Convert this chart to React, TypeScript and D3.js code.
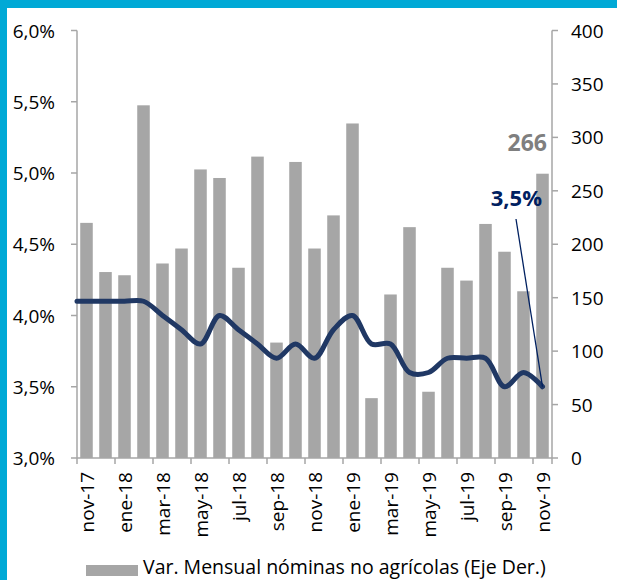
import React from "react";
import * as d3 from "d3";

const categories = [
  "nov-17","dic-17","ene-18","feb-18","mar-18","abr-18","may-18","jun-18","jul-18","ago-18","sep-18","oct-18",
  "nov-18","dic-18","ene-19","feb-19","mar-19","abr-19","may-19","jun-19","jul-19","ago-19","sep-19","oct-19","nov-19",
];
const payrolls = [220,174,171,330,182,196,270,262,178,282,108,277,196,227,313,56,153,216,62,178,166,219,193,156,266];
const unemployment = [4.1,4.1,4.1,4.1,4.0,3.9,3.8,4.0,3.9,3.8,3.7,3.8,3.7,3.9,4.0,3.8,3.8,3.6,3.6,3.7,3.7,3.7,3.5,3.6,3.5];
const leftTicks = [3.0,3.5,4.0,4.5,5.0,5.5,6.0];
const rightTicks = [0,50,100,150,200,250,300,350,400];
const legendLabel = "Var. Mensual nóminas no agrícolas (Eje Der.)";
const lastBarLabel = "266";
const lastLineLabel = "3,5%";

const W = 617, H = 580;
const left = 77, right = 552, top = 30.5, bottom = 458;
const font = "'Open Sans', 'Noto Sans', sans-serif";
const axisColor = "#A6A6A6";

export default function App() {
  const x = d3.scaleBand<string>().domain(categories).range([left, right]).paddingInner(0.34).paddingOuter(0.17);
  const step = x.step();
  const yL = d3.scaleLinear().domain([3, 6]).range([bottom, top]);
  const yR = d3.scaleLinear().domain([0, 400]).range([bottom, top]);
  const cx = (c: string) => left + categories.indexOf(c) * step + step / 2;
  const pts: [number, number][] = [
    [left, yL(unemployment[0])],
    ...unemployment.map((v, i) => [cx(categories[i]), yL(v)] as [number, number]),
  ];
  const line = d3.line().curve(d3.curveCatmullRom.alpha(0.5));
  const fmt = (v: number) => v.toFixed(1).replace(".", ",") + "%";
  const lastI = categories.length - 1;
  const lastX = cx(categories[lastI]);
  const lastY = yL(unemployment[lastI]);

  return (
    <svg width={W} height={H} style={{ position: "absolute", left: 0, top: 0, background: "#fff" }} fontFamily={font}>
      <rect x={0} y={0} width={W} height={8} fill="#00A9D6" />
      <rect x={0} y={0} width={7} height={H} fill="#00A9D6" />

      {categories.map((c, i) => (
        <rect key={c} x={x(c)} y={yR(payrolls[i])} width={x.bandwidth()} height={bottom - yR(payrolls[i])} fill="#A6A6A6" />
      ))}

      {/* left axis */}
      <line x1={left} x2={left} y1={top} y2={bottom} stroke={axisColor} strokeWidth={1.5} />
      {leftTicks.map((t) => (
        <g key={t}>
          <line x1={left - 6} x2={left} y1={yL(t)} y2={yL(t)} stroke={axisColor} strokeWidth={1.5} />
          <text x={55} y={yL(t)} textAnchor="end" dominantBaseline="central" fontSize={19} fill="#000">{fmt(t)}</text>
        </g>
      ))}
      {/* right axis */}
      <line x1={right} x2={right} y1={top} y2={bottom} stroke={axisColor} strokeWidth={1.5} />
      {rightTicks.map((t) => (
        <g key={t}>
          <line x1={right} x2={right + 6} y1={yR(t)} y2={yR(t)} stroke={axisColor} strokeWidth={1.5} />
          <text x={571} y={yR(t)} textAnchor="start" dominantBaseline="central" fontSize={19} fill="#000">{t}</text>
        </g>
      ))}
      {/* bottom axis */}
      <line x1={left} x2={right} y1={bottom} y2={bottom} stroke={axisColor} strokeWidth={1.5} />
      {categories.map((c, i) =>
        i % 2 === 0 ? (
          <g key={c}>
            <line x1={left + i * step} x2={left + i * step} y1={bottom} y2={bottom + 6} stroke={axisColor} strokeWidth={1.5} />
            <text
              transform={`translate(${cx(c)},${bottom + 14}) rotate(-90)`}
              textAnchor="end"
              dominantBaseline="central"
              fontSize={19}
              fill="#000"
            >
              {c}
            </text>
          </g>
        ) : null
      )}
      <line x1={right} x2={right} y1={bottom} y2={bottom + 6} stroke={axisColor} strokeWidth={1.5} />

      <path d={line(pts) || ""} fill="none" stroke="#203864" strokeWidth={5} strokeLinejoin="round" strokeLinecap="round" />

      <line x1={516} y1={219} x2={lastX} y2={lastY} stroke="#002060" strokeWidth={1.3} />
      <text x={542} y={206} textAnchor="end" fontSize={22} fontWeight="bold" fill="#002060">{lastLineLabel}</text>
      <text x={547} y={151} textAnchor="end" fontSize={23} fontWeight="bold" fill="#7F7F7F">{lastBarLabel}</text>

      <rect x={86} y={565} width={52} height={11} fill="#A6A6A6" />
      <text x={143} y={574} fontSize={19.5} fill="#000">{legendLabel}</text>
    </svg>
  );
}
